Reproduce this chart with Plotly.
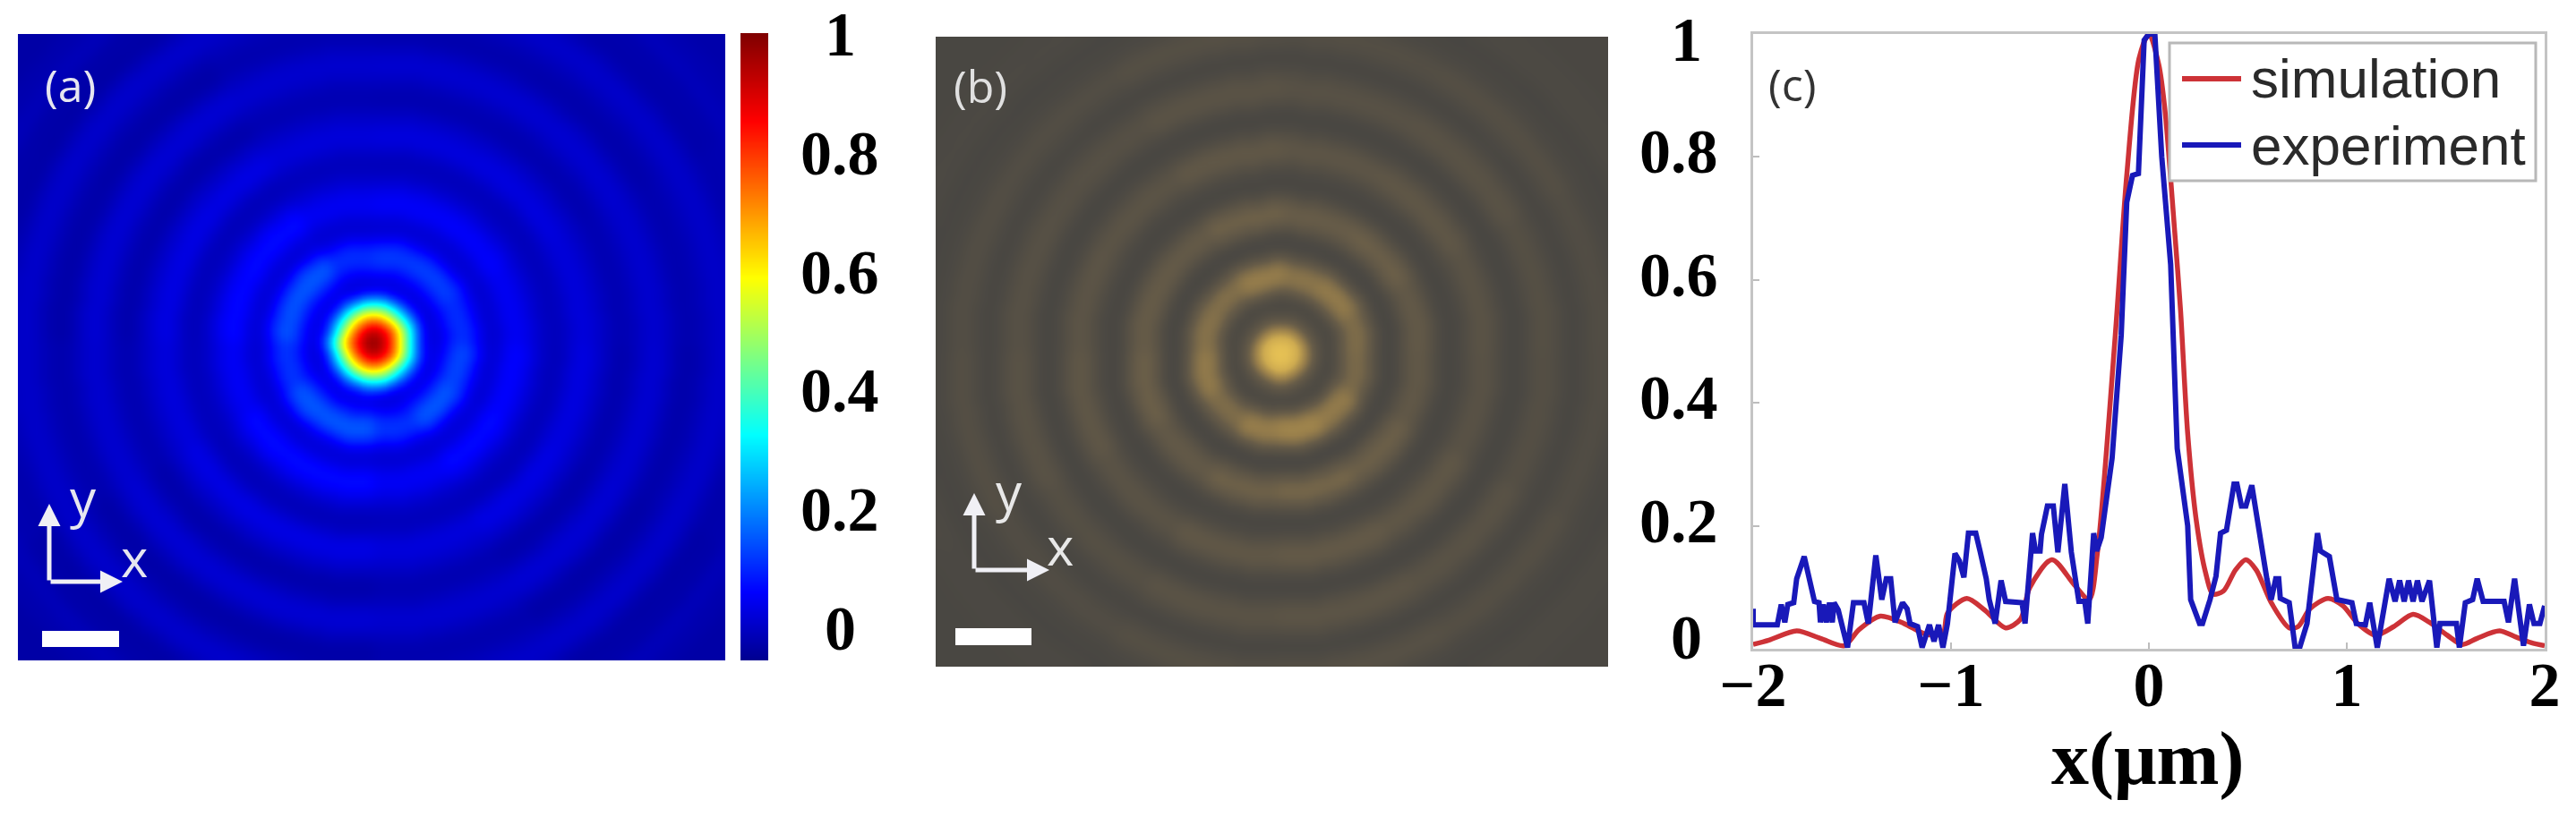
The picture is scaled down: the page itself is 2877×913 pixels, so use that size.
import numpy as np
import plotly.graph_objects as go

W, H = 2877, 913

# (c) line profiles
sim_x = [-2.0, -1.92, -1.78, -1.66, -1.54, -1.465, -1.357, -1.237, -1.131, -1.041, -1.018, -0.92, -0.83, -0.724,
         -0.649, -0.603, -0.49, -0.377, -0.302, -0.26, -0.17, -0.112, -0.05, 0.0, 0.05, 0.08, 0.13, 0.16, 0.196,
         0.241, 0.287, 0.324, 0.377, 0.437, 0.49, 0.543, 0.618, 0.709, 0.754, 0.814, 0.905, 0.98, 1.056, 1.146,
         1.237, 1.335, 1.418, 1.508, 1.584, 1.659, 1.772, 1.855, 1.931, 2.0]
sim_y = [0.007, 0.014, 0.029, 0.017, 0.005, 0.031, 0.053, 0.041, 0.024, 0.025, 0.058, 0.082, 0.063, 0.034,
         0.048, 0.099, 0.145, 0.104, 0.08, 0.157, 0.51, 0.77, 0.96, 1.0, 0.95, 0.88, 0.68, 0.55, 0.35,
         0.205, 0.123, 0.089, 0.094, 0.128, 0.145, 0.128, 0.075, 0.034, 0.036, 0.065, 0.082, 0.07, 0.041, 0.022,
         0.036, 0.056, 0.043, 0.022, 0.007, 0.017, 0.029, 0.019, 0.01, 0.005]

exp_x = [-2.0, -2.0, -1.878, -1.858, -1.84, -1.825, -1.795, -1.78, -1.742, -1.712, -1.69, -1.667, -1.66, -1.645,
         -1.63, -1.614, -1.6, -1.591, -1.57, -1.523, -1.493, -1.44, -1.418, -1.38, -1.35, -1.327, -1.305, -1.283,
         -1.245, -1.222, -1.207, -1.169, -1.146, -1.109, -1.086, -1.063, -1.041, -1.018, -0.98, -0.958, -0.935,
         -0.912, -0.875, -0.852, -0.822, -0.807, -0.777, -0.747, -0.724, -0.641, -0.626, -0.588, -0.573, -0.55,
         -0.543, -0.513, -0.483, -0.46, -0.425, -0.392, -0.354, -0.324, -0.309, -0.279, -0.264, -0.241, -0.186,
         -0.14, -0.112, -0.083, -0.053, -0.024, 0.0, 0.03, 0.065, 0.11, 0.143, 0.196, 0.211, 0.256, 0.271, 0.309,
         0.339, 0.362, 0.392, 0.43, 0.445, 0.468, 0.49, 0.52, 0.551, 0.596, 0.618, 0.641, 0.656, 0.664, 0.709,
         0.739, 0.762, 0.799, 0.852, 0.867, 0.912, 0.95, 1.026, 1.048, 1.094, 1.116, 1.154, 1.214, 1.244, 1.267,
         1.29, 1.312, 1.335, 1.357, 1.38, 1.418, 1.455, 1.471, 1.554, 1.569, 1.599, 1.636, 1.659, 1.689, 1.795,
         1.817, 1.848, 1.893, 1.923, 1.946, 1.976, 2.0]
exp_y = [0.065, 0.039, 0.039, 0.072, 0.043, 0.072, 0.075, 0.114, 0.15, 0.109, 0.077, 0.075, 0.043, 0.072,
         0.043, 0.075, 0.043, 0.075, 0.063, 0.002, 0.075, 0.075, 0.041, 0.152, 0.08, 0.114, 0.114, 0.043,
         0.075, 0.065, 0.041, 0.036, 0.002, 0.039, 0.012, 0.039, 0.002, 0.041, 0.155, 0.143, 0.116,
         0.188, 0.188, 0.157, 0.114, 0.08, 0.041, 0.111, 0.077, 0.075, 0.041, 0.188, 0.159, 0.159,
         0.186, 0.232, 0.232, 0.157, 0.268, 0.157, 0.077, 0.077, 0.041, 0.188, 0.159, 0.181, 0.31,
         0.51, 0.726, 0.77, 0.773, 0.99, 1.0, 1.0, 0.8, 0.625, 0.326, 0.2, 0.08, 0.041, 0.041, 0.08,
         0.118, 0.188, 0.193, 0.268, 0.268, 0.232, 0.232, 0.266, 0.2, 0.114, 0.08, 0.114, 0.114, 0.082, 0.075,
         0.002, 0.002, 0.041, 0.188, 0.159, 0.15, 0.08, 0.075, 0.041, 0.039, 0.075, 0.002, 0.114, 0.077, 0.111,
         0.077, 0.111, 0.077, 0.111, 0.077, 0.111, 0.002, 0.041, 0.041, 0.002, 0.075, 0.08, 0.114, 0.077, 0.077,
         0.043, 0.114, 0.005, 0.072, 0.041, 0.041, 0.07]

# (a) and (b) are drawn from one radial reading each (distance from the spot, screen px)
a_radius = [0, 5, 10, 15, 20, 25, 30, 35, 40, 45, 50, 55, 60, 70, 80, 90, 100, 110, 120, 130, 140, 150, 160, 170,
            180, 190, 200, 210, 220, 230, 240, 250, 260, 270, 280, 290, 300, 310, 320, 330, 340, 350, 360, 370,
            380, 390, 400, 410, 420, 440, 460, 480, 500, 520, 540, 560, 600]
a_level = [1.0, 0.98, 0.95, 0.9, 0.83, 0.74, 0.63, 0.52, 0.4, 0.29, 0.18, 0.09, 0.04,
           0.03, 0.07, 0.12, 0.13, 0.1, 0.04, 0.015, 0.025, 0.055, 0.06, 0.045, 0.02, 0.0, -0.01, -0.005, 0.015,
           0.03, 0.025, 0.01, -0.005, -0.02, -0.02, -0.01, 0.005, 0.015, 0.01, -0.005, -0.02, -0.025, -0.02, -0.01,
           0.002, 0.008, 0.0, -0.015, -0.025,
           -0.022, -0.01, -0.018, -0.025, -0.025, -0.025, -0.025, -0.025]
a_sector_gain = [0.85, 1.0, 0.95, 0.85, 1.2, 1.15, 0.9, 1.2, 1.2, 0.9, 1.2, 1.05]

b_radius = [0, 5, 10, 15, 20, 25, 30, 35, 40, 45, 50, 55, 60, 70, 80, 90, 100, 110, 120, 130, 140, 150, 160, 170,
            180, 190, 200, 210, 220, 230, 240, 250, 260, 270, 280, 290, 300, 310, 320, 330, 340, 350, 360, 370,
            380, 390, 400, 420, 430, 440, 470, 500, 540, 600]
b_level = [1.0, 1.0, 0.95, 0.85, 0.7, 0.5, 0.33, 0.2, 0.12, 0.06, 0.03, 0.02, 0.04, 0.2, 0.34, 0.36, 0.25, 0.07,
           0.0, 0.02, 0.12, 0.2, 0.2, 0.12, 0.03, 0.0, 0.02, 0.07, 0.13, 0.14, 0.09, 0.03, 0.0, 0.01, 0.06, 0.1,
           0.1, 0.06, 0.02, 0.0, 0.03, 0.06, 0.08, 0.05, 0.02, 0.01, 0.0, 0.02, 0.03, 0.02, 0.01, 0.01, 0.01, 0.01]
b_sector_gain = [0.85, 1.1, 1.0, 1.15, 0.9, 0.95, 1.1, 0.85, 1.15, 1.3, 1.1, 0.8]

bar_labels = ["0", "0.2", "0.4", "0.6", "0.8", "1"]
bar_values = [0, 0.2, 0.4, 0.6, 0.8, 1]
c_y_ticks = [0, 0.2, 0.4, 0.6, 0.8, 1]
c_x_ticks = [-2, -1, 0, 1, 2]
c_x_labels = ["<b>\u22122</b>", "<b>\u22121</b>", "<b>0</b>", "<b>1</b>", "<b>2</b>"]
sim_name = "simulation"
exp_name = "experiment"

SIM_COLOR = "rgb(205,50,55)"
EXP_COLOR = "rgb(25,25,185)"
jet = [[0, "rgb(0,0,143)"], [0.11, "rgb(0,0,255)"], [0.36, "rgb(0,255,255)"],
       [0.61, "rgb(255,255,0)"], [0.86, "rgb(255,0,0)"], [1, "rgb(128,0,0)"]]
camera = [[0, "rgb(72,70,66)"], [0.2, "rgb(103,92,72)"], [0.4, "rgb(150,125,75)"],
          [0.7, "rgb(205,170,80)"], [1, "rgb(232,195,85)"]]
BAR_MIN, BAR_MAX = -0.054, 1.003

SERIF = "Liberation Serif"
SANS = "Liberation Sans"
PANEL_FONT = "Open Sans"


def domain_x(x0, x1):
    return [x0 / W, x1 / W]


def domain_y(y0, y1):
    return [1 - y1 / H, 1 - y0 / H]


def soften(z, passes=2):
    # the source is a blurry scan, a small box average gets rid of the reading steps
    for _ in range(passes):
        p = np.pad(z, 1, mode="edge")
        z = sum(p[1 + i:p.shape[0] - 1 + i, 1 + j:p.shape[1] - 1 + j] for i in (-1, 0, 1) for j in (-1, 0, 1)) / 9
    return z


def radial_image(x0, x1, y0, y1, cx, cy, radius, level, gain, step=5):
    # nearest reading for every cell, no fit
    xs = np.arange(x0, x1 + step, step)
    ys = np.arange(y0, y1 + step, step)
    xx, yy = np.meshgrid(xs, ys)
    r = np.hypot(xx - cx, yy - cy)
    ang = np.degrees(np.arctan2(cy - yy, xx - cx)) % 360
    radius = np.array(radius)
    level = np.array(level)
    gain = np.array(gain)
    idx = np.abs(r[..., None] - radius).argmin(axis=-1)
    z = level[idx]
    sect = (ang // (360 / len(gain))).astype(int) % len(gain)
    z = np.where(r > 55, z * gain[sect], z)
    return xs, ys, soften(z)


fig = go.Figure()

# panel a
xa, ya, za = radial_image(20, 810, 38, 738, 417, 383, a_radius, a_level, a_sector_gain)
fig.add_trace(go.Heatmap(x=xa, y=ya, z=za, colorscale=jet, zmin=BAR_MIN, zmax=BAR_MAX, zsmooth="best",
                         showscale=False, xaxis="x", yaxis="y"))

# colour bar of panel a
bar_y = np.linspace(BAR_MIN, BAR_MAX, 200)
fig.add_trace(go.Heatmap(x=[0, 1], y=bar_y, z=np.column_stack([bar_y, bar_y]), colorscale=jet,
                         zmin=BAR_MIN, zmax=BAR_MAX, zsmooth="best", showscale=False, xaxis="x4", yaxis="y4"))

# panel b
xb, yb, zb = radial_image(1045, 1796, 41, 745, 1430, 395, b_radius, b_level, b_sector_gain)
fig.add_trace(go.Heatmap(x=xb, y=yb, z=zb, colorscale=camera, zmin=0, zmax=1, zsmooth="best",
                         showscale=False, xaxis="x2", yaxis="y2"))

# panel c
fig.add_trace(go.Scatter(x=sim_x, y=sim_y, mode="lines", name=sim_name,
                         line=dict(color=SIM_COLOR, width=5.5, shape="spline", smoothing=0.8),
                         xaxis="x3", yaxis="y3"))
fig.add_trace(go.Scatter(x=exp_x, y=exp_y, mode="lines", name=exp_name,
                         line=dict(color=EXP_COLOR, width=6), xaxis="x3", yaxis="y3"))

hidden = dict(visible=False, showgrid=False, zeroline=False)
layout = dict(
    width=W, height=H, margin=dict(l=0, r=0, t=0, b=0, autoexpand=False),
    paper_bgcolor="white", plot_bgcolor="white", showlegend=False,
    xaxis=dict(domain=domain_x(20, 810), range=[20, 810], anchor="y", **hidden),
    yaxis=dict(domain=domain_y(38, 738), range=[738, 38], anchor="x", **hidden),
    xaxis2=dict(domain=domain_x(1045, 1796), range=[1045, 1796], anchor="y2", **hidden),
    yaxis2=dict(domain=domain_y(41, 745), range=[745, 41], anchor="x2", **hidden),
    xaxis4=dict(domain=domain_x(827, 858), range=[0, 1], anchor="y4", **hidden),
    yaxis4=dict(domain=domain_y(37, 738), range=[BAR_MIN, BAR_MAX], anchor="x4", **hidden),
    xaxis3=dict(domain=domain_x(1958, 2842), range=[-2, 2], anchor="y3", tickvals=c_x_ticks, ticktext=c_x_labels,
                ticks="inside", ticklen=7, tickcolor="#bdbdbd", tickwidth=2, mirror=True, showline=True,
                linecolor="#c4c4c4", linewidth=3, showgrid=False, zeroline=False,
                tickfont=dict(family=SERIF, size=70, color="black"), ticklabelstandoff=-23),
    yaxis3=dict(domain=domain_y(38, 725), range=[0, 1], anchor="x3", tickvals=c_y_ticks, showticklabels=False,
                ticks="inside", ticklen=7, tickcolor="#bdbdbd", tickwidth=2, mirror=True, showline=True,
                linecolor="#c4c4c4", linewidth=3, showgrid=False, zeroline=False),
)

notes = []


def label(text, x, y, xref, yref, family=SERIF, size=70, color="black", xanchor="center"):
    notes.append(dict(text=text, x=x, y=y, xref=xref, yref=yref, showarrow=False, xanchor=xanchor, yanchor="middle",
                      font=dict(family=family, size=size, color=color)))


def arrow(x0, y0, x1, y1, xref, yref):
    notes.append(dict(text="", x=x1, y=y1, ax=x0, ay=y0, xref=xref, yref=yref, axref=xref, ayref=yref,
                      showarrow=True, arrowhead=2, arrowsize=1, arrowwidth=5, arrowcolor="#f0f0f5"))


# colour bar labels, centred on one column as in the picture
for txt, val in zip(bar_labels, bar_values):
    label("<b>%s</b>" % txt, 938 / W, val, "paper", "y4")

# y labels of panel c; they sit a little off their ticks in the picture
for txt, pos, xc in zip(bar_labels, [0.0175, 0.207, 0.409, 0.608, 0.808, 0.99], [1883, 1875, 1875, 1875, 1875, 1883]):
    label("<b>%s</b>" % txt, xc / W, pos, "paper", "y3")

label("<b>x(\u03bcm)</b>", 2399 / W, 1 - 848 / H, "paper", "paper", size=84)

label("(a)", 78, 95, "x", "y", PANEL_FONT, 50, "#e6e6f0")
label("y", 93, 555, "x", "y", PANEL_FONT, 58, "#e6e6f0")
label("x", 150, 622, "x", "y", PANEL_FONT, 58, "#e6e6f0")
arrow(55, 650, 55, 563, "x", "y")
arrow(55, 650, 137, 650, "x", "y")

label("(b)", 1095, 96, "x2", "y2", PANEL_FONT, 50, "#e0e0e0")
label("y", 1127, 548, "x2", "y2", PANEL_FONT, 58, "#e8e8e8")
label("x", 1184, 609, "x2", "y2", PANEL_FONT, 58, "#e8e8e8")
arrow(1088, 637, 1088, 551, "x2", "y2")
arrow(1088, 637, 1172, 637, "x2", "y2")

label("(c)", 2001 / W, 1 - 94 / H, "paper", "paper", PANEL_FONT, 50, "#333333")

# legend box by hand: plotly's own rows are too tall for this font size
label(sim_name, 2512 / W, 1 - 88 / H, "paper", "paper", SANS, 62, "#2a2a2a", "left")
label(exp_name, 2512 / W, 1 - 162 / H, "paper", "paper", SANS, 62, "#2a2a2a", "left")


def legend_line(y, color):
    return dict(type="line", xref="paper", yref="paper", x0=2437 / W, x1=2503 / W, y0=1 - y / H, y1=1 - y / H,
                line=dict(color=color, width=6))


layout["annotations"] = notes
layout["shapes"] = [
    dict(type="rect", xref="x", yref="y", x0=47, x1=133, y0=705, y1=723, fillcolor="white", line_width=0),
    dict(type="rect", xref="x2", yref="y2", x0=1067, x1=1152, y0=702, y1=721, fillcolor="white", line_width=0),
    dict(type="rect", xref="paper", yref="paper", x0=2423 / W, x1=2832 / W, y0=1 - 202 / H, y1=1 - 48 / H,
         fillcolor="white", line=dict(color="#b8b8b8", width=3)),
    legend_line(88, SIM_COLOR),
    legend_line(162, EXP_COLOR),
]
fig.update_layout(**layout)

fig.write_html("out.html", config=dict(displayModeBar=False),
               post_script="document.body.style.margin='0';")
